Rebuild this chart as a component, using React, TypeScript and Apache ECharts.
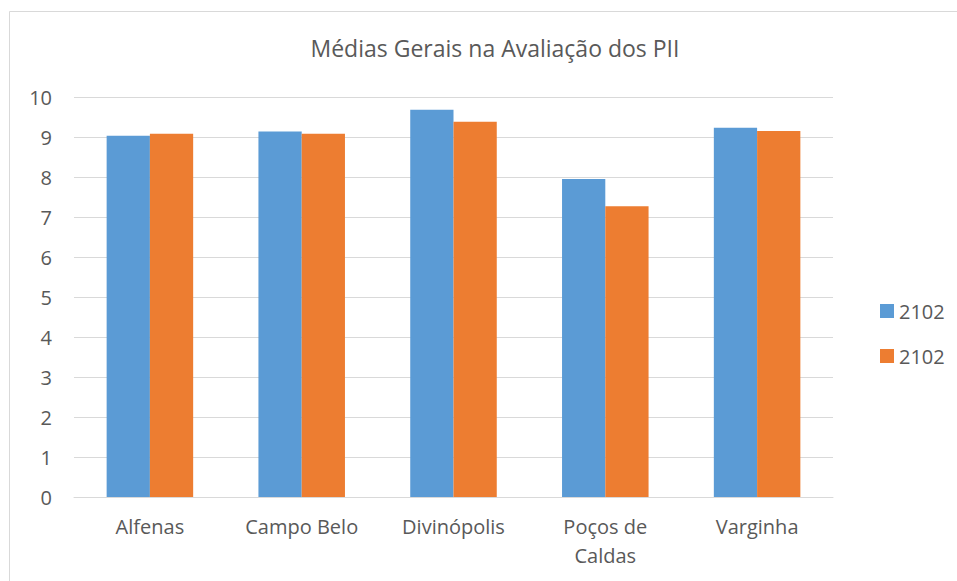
import React, { useEffect, useRef } from "react";
import * as echarts from "echarts";

const TITLE = "Médias Gerais na Avaliação dos PII";
const CATEGORIES = ["Alfenas", "Campo Belo", "Divinópolis", "Poços de Caldas", "Varginha"];
const SERIES_NAMES = ["2102", "2102"];
const SERIES_A = [9.03, 9.14, 9.68, 7.95, 9.23];
const SERIES_B = [9.08, 9.08, 9.38, 7.27, 9.15];
const COLORS = ["#5B9BD5", "#ED7D31"];
const Y_MIN = 0;
const Y_MAX = 10;
const Y_INTERVAL = 1;

const FONT = "'Open Sans', 'Noto Sans', sans-serif";
const TEXT_COLOR = "#595959";
const GRID_COLOR = "#D9D9D9";

export default function App() {
  const ref = useRef<HTMLDivElement>(null);

  useEffect(() => {
    if (!ref.current) return;
    const chart = echarts.init(ref.current, undefined, { renderer: "svg" });
    const values = [SERIES_A, SERIES_B];
    const ids = SERIES_NAMES.map((n, i) => `${n}#${i}`);
    chart.setOption({
      animation: false,
      backgroundColor: "#ffffff",
      textStyle: { fontFamily: FONT },
      title: {
        text: TITLE,
        left: 490,
        textAlign: "center",
        top: 31,
        textStyle: { fontFamily: FONT, fontSize: 23, fontWeight: "normal", color: TEXT_COLOR },
      },
      graphic: [
        {
          type: "rect",
          shape: { x: 9.5, y: 11.5, width: 1200, height: 1200 },
          style: { fill: "none", stroke: GRID_COLOR, lineWidth: 1 },
          silent: true,
          z: -10,
        },
      ],
      legend: {
        orient: "vertical",
        left: 875,
        top: 296,
        itemWidth: 14,
        itemHeight: 14,
        itemGap: 25,
        icon: "rect",
        data: ids,
        formatter: (name: string) => name.split("#")[0],
        textStyle: { fontFamily: FONT, fontSize: 20, color: TEXT_COLOR, lineHeight: 20 },
      },
      grid: { left: 74, right: 124, top: 97, bottom: 84, containLabel: false },
      xAxis: {
        type: "category",
        data: CATEGORIES,
        axisTick: { show: false },
        axisLine: { show: true, lineStyle: { color: GRID_COLOR, width: 1 } },
        axisLabel: {
          interval: 0,
          margin: 15,
          fontFamily: FONT,
          fontSize: 20,
          lineHeight: 29,
          color: TEXT_COLOR,
          formatter: (v: string) => {
            if (v.length > 12) {
              const i = v.lastIndexOf(" ");
              return v.slice(0, i) + "\n" + v.slice(i + 1);
            }
            return v;
          },
        },
      },
      yAxis: {
        type: "value",
        min: Y_MIN,
        max: Y_MAX,
        interval: Y_INTERVAL,
        axisLine: { show: false },
        axisTick: { show: false },
        splitLine: { lineStyle: { color: GRID_COLOR, width: 1 } },
        axisLabel: { margin: 22, fontFamily: FONT, fontSize: 20, color: TEXT_COLOR },
      },
      series: ids.map((id, i) => ({
        name: id,
        type: "bar",
        data: values[i],
        itemStyle: { color: COLORS[i] },
        barGap: "0%",
        barCategoryGap: "43%",
      })),
    });
    return () => chart.dispose();
  }, []);

  return (
    <div
      ref={ref}
      style={{ position: "absolute", left: 0, top: 0, width: 957, height: 581 }}
    />
  );
}
